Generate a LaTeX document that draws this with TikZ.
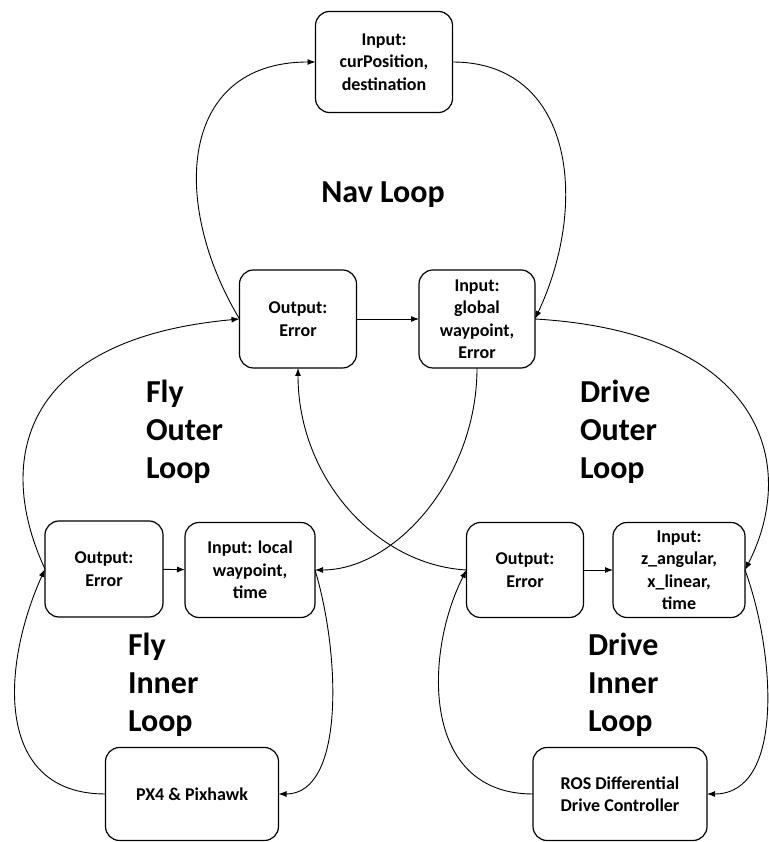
\documentclass[tikz,border=0pt]{standalone}
\usepackage{fontspec}
\setmainfont{Carlito}
\usetikzlibrary{arrows.meta}

\begin{document}
\begin{tikzpicture}[x=1pt, y=1pt, every node/.style={outer sep=0pt},
  block/.style={draw, line width=1.2pt, rounded corners=14pt, fill=white, align=center, inner sep=2pt, font=\bfseries\fontsize{18}{22.5}\selectfont},
  looplabel/.style={align=left, inner sep=0pt, font=\bfseries\fontsize{32}{38}\selectfont},
  flow/.style={line width=0.9pt, -{Latex[length=8pt,width=6pt]}}]
\useasboundingbox (0,0) rectangle (768,842);

% nav loop
\node[block, minimum width=137pt, minimum height=101pt] (pos) at (384,780) {Input:\\curPosition,\\destination};
\node[block, minimum width=117pt, minimum height=98pt] (navout) at (298,523) {Output:\\Error};
\node[block, minimum width=116pt, minimum height=98pt] (navin) at (477,523) {Input:\\global\\waypoint,\\Error};
\node[looplabel] (navlbl) at (383,647) {Nav Loop};

% fly side
\node[block, minimum width=118pt, minimum height=96pt] (flyout) at (104,273) {Output:\\Error};
\node[block, minimum width=130pt, minimum height=95pt] (flyin) at (250,272) {Input: local\\waypoint,\\time};
\node[block, minimum width=173pt, minimum height=93pt] (px4) at (192,48) {PX4 \& Pixhawk};
\node[looplabel, anchor=west] (flyouterlbl) at (146,410) {Fly\\Outer\\Loop};
\node[looplabel, anchor=west] (flyinnerlbl) at (128,157) {Fly\\Inner\\Loop};

% drive side
\node[block, minimum width=117pt, minimum height=95pt] (drvout) at (525,272) {Output:\\Error};
\node[block, minimum width=132pt, minimum height=95pt] (drvin) at (679,272) {Input:\\z\_angular,\\x\_linear,\\time};
\node[block, minimum width=174pt, minimum height=93pt] (ros) at (620,48) {ROS Differential\\Drive Controller};
\node[looplabel, anchor=west] (drvouterlbl) at (580,410) {Drive\\Outer\\Loop};
\node[looplabel, anchor=west] (drvinnerlbl) at (588,157) {Drive\\Inner\\Loop};

% connectors
\draw[flow] (navout.west) .. controls +(-70,117) and +(-136,0) .. (pos.west);
\draw[flow] (pos.east) .. controls +(120,0) and +(55,117) .. (navin.east);
\draw[flow] (navout) -- (navin);

\draw[flow] (flyout.west) .. controls +(-50,107) and +(-220,-20) .. (navout.west);
\draw[flow] (px4.west) .. controls +(-110,0) and +(-45,-100) .. (flyout.west);
\draw[flow] (flyout) -- (flyin);
\draw[flow] (navin.south) .. controls +(0,-110) and +(80,0) .. (flyin.east);
\draw[flow] (flyin.east) .. controls +(25,-82) and +(67,0) .. (px4.east);

\draw[flow] (drvout.west) .. controls +(-90,5) and +(0,-110) .. (navout.south);
\draw[flow] (drvout) -- (drvin);
\draw[flow] (navin.east) .. controls +(225,-13) and +(55,108) .. (drvin.east);
\draw[flow] (drvin.east) .. controls +(30,-82) and +(78,0) .. (ros.east);
\draw[flow] (ros.west) .. controls +(-113,0) and +(-42,-82) .. (drvout.west);
\end{tikzpicture}
\end{document}
